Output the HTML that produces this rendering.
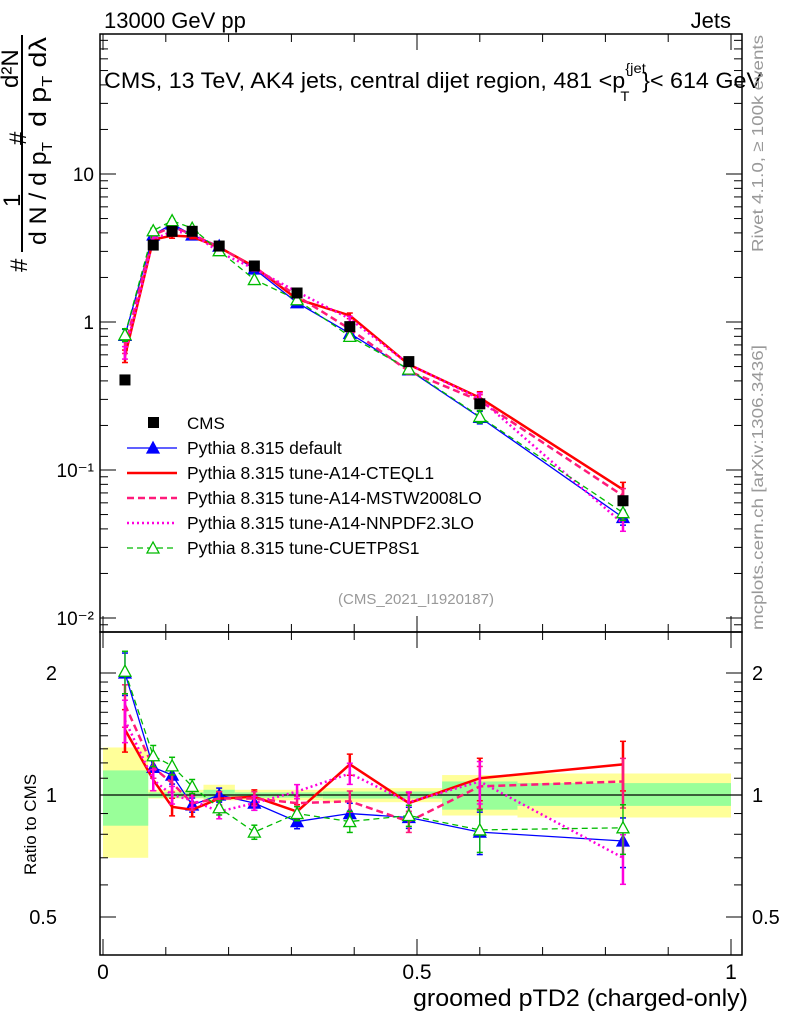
<!DOCTYPE html>
<html><head><meta charset="utf-8"><style>
body{margin:0;background:#fff;}
svg{display:block;font-family:"Liberation Sans",sans-serif;}
</style></head><body>
<svg id="chart" width="786" height="1024" viewBox="0 0 786 1024" xmlns="http://www.w3.org/2000/svg">
<g id="bands"></g>
<g id="axes"></g>
<g id="series"></g>
<g id="legend"></g>
<text x="104" y="28" font-size="22">13000 GeV pp</text>
<text x="731" y="28" font-size="22" text-anchor="end">Jets</text>
<text x="104" y="88" font-size="22" textLength="658" lengthAdjust="spacingAndGlyphs">CMS, 13 TeV, AK4 jets, central dijet region, 481 &lt;p<tspan font-size="14" dy="-15">{jet</tspan><tspan font-size="14" dx="-24" dy="28">T</tspan><tspan dx="12" dy="-13">}&lt; 614 GeV</tspan></text>
<text x="416" y="604" font-size="15" fill="#999" text-anchor="middle">(CMS_2021_I1920187)</text>
<text transform="translate(763,252) rotate(-90)" font-size="16" fill="#999" textLength="217" lengthAdjust="spacingAndGlyphs">Rivet 4.1.0, ≥ 100k events</text>
<text transform="translate(763,630) rotate(-90)" font-size="16" fill="#999" textLength="285" lengthAdjust="spacingAndGlyphs">mcplots.cern.ch [arXiv:1306.3436]</text>
<g font-size="24">
<text transform="translate(27,272) rotate(-90)">#</text>
<text transform="translate(20,207) rotate(-90)">1</text>
<line x1="22" y1="252" x2="22" y2="35" stroke="#000" stroke-width="2"/>
<text transform="translate(46,245) rotate(-90)" textLength="103" lengthAdjust="spacingAndGlyphs">d N / d p<tspan font-size="15" dy="6">T</tspan></text>
<text transform="translate(26,145) rotate(-90)">#</text>
<text transform="translate(46,127) rotate(-90)" textLength="90" lengthAdjust="spacingAndGlyphs">d p<tspan font-size="15" dy="6">T</tspan><tspan dy="-6"> dλ</tspan></text>
<text transform="translate(18,88) rotate(-90)">d²N</text>
</g>
<text transform="translate(36,875) rotate(-90)" font-size="17">Ratio to CMS</text>
<text x="748" y="1006" font-size="24" text-anchor="end" textLength="335" lengthAdjust="spacingAndGlyphs">groomed pTD2 (charged-only)</text>
</svg>
<script>
// ---------- data ----------
const xCenters = [0.035,0.080,0.110,0.142,0.185,0.241,0.309,0.393,0.487,0.600,0.828];
const cmsValues = [0.406,3.31,4.1,4.1,3.26,2.39,1.57,0.93,0.54,0.28,0.062];
const ratioDefault = [2.0,1.17,1.12,0.945,1.0,0.955,0.86,0.90,0.88,0.81,0.77];
const ratioCTEQL1 = [1.45,1.09,0.935,0.92,0.98,0.99,0.91,1.19,0.955,1.10,1.19];
const ratioMSTW = [1.67,1.17,1.07,0.955,0.98,0.98,0.955,0.965,0.86,1.05,1.08];
const ratioNNPDF = [1.53,1.09,1.0,0.97,0.91,0.955,1.02,1.13,0.96,1.08,0.70];
const ratioCUETP8S1 = [2.02,1.25,1.18,1.05,0.93,0.81,0.90,0.86,0.89,0.82,0.83];
const ratioErr = [0.12,0.06,0.05,0.04,0.04,0.04,0.04,0.06,0.06,0.12,0.14];
const binEdges = [0,0.072,0.16,0.21,0.35,0.54,0.66,1.0];
const yellowUp = [1.31,1.03,1.06,1.03,1.04,1.12,1.13];
const yellowDn = [0.70,0.98,0.97,0.97,0.96,0.89,0.88];
const greenUp = [1.15,1.015,1.03,1.015,1.02,1.08,1.07];
const greenDn = [0.84,0.985,0.98,0.985,0.98,0.92,0.94];
const xTickLabels = ["0","0.5","1"];
const yTickLabels = ["10","1","10⁻¹","10⁻²"];
const ratioTickLabels = ["2","1","0.5"];

// ---------- geometry ----------
const L=100,R=742,T=34,M=632,B=955;
const X=v=>103+v*628;
const Y=v=>322-148*Math.log10(v);
const RY=v=>795-122*Math.log2(v);
const NS="http://www.w3.org/2000/svg";
function mk(tag,attrs,parent){const e=document.createElementNS(NS,tag);for(const k in attrs)e.setAttribute(k,attrs[k]);parent.appendChild(e);return e;}
const axes=document.getElementById('axes'),bands=document.getElementById('bands'),ser=document.getElementById('series'),leg=document.getElementById('legend');

for(let i=0;i<binEdges.length-1;i++){
 const x1=X(binEdges[i]),x2=X(binEdges[i+1]);
 const y=mk('rect',{x:x1,y:RY(yellowUp[i]),width:x2-x1,height:RY(yellowDn[i])-RY(yellowUp[i]),fill:'#ffff99'},bands);
 
 
 const g=mk('rect',{x:x1,y:RY(greenUp[i]),width:x2-x1,height:RY(greenDn[i])-RY(greenUp[i]),fill:'#99ff99'},bands);
 
 
}
mk('rect',{x:L,y:T,width:R-L,height:M-T,fill:'none',stroke:'#000','stroke-width':1.5},axes);
mk('rect',{x:L,y:M,width:R-L,height:B-M,fill:'none',stroke:'#000','stroke-width':1.5},axes);
mk('line',{x1:L,x2:R,y1:RY(1),y2:RY(1),stroke:'#000','stroke-width':1.2},axes);
for(let i=0;i<=10;i++){const v=i/10,x=X(v),len=(i%5==0)?16:8;
 for(const [top,bot] of [[T,M],[M,B]]){
  mk('line',{x1:x,x2:x,y1:bot,y2:bot-len,stroke:'#000'},axes);
  mk('line',{x1:x,x2:x,y1:top,y2:top+len,stroke:'#000'},axes);}
}
xTickLabels.forEach((s,i)=>{const t=mk('text',{x:X(i*0.5),y:979,'font-size':21,'text-anchor':'middle'},axes);t.textContent=s;
 
 });
for(let d=-3;d<=1;d++){for(let m=1;m<=9;m++){const v=m*Math.pow(10,d),y=Y(v);if(y<T||y>M)continue;const len=m==1?16:8;
 mk('line',{x1:L,x2:L+len,y1:y,y2:y,stroke:'#000'},axes);mk('line',{x1:R,x2:R-len,y1:y,y2:y,stroke:'#000'},axes);}}
[10,1,0.1,0.01].forEach((v,i)=>{const t=mk('text',{x:94,y:Y(v)+7,'font-size':19,'text-anchor':'end'},axes);t.textContent=yTickLabels[i];
 
 });
for(let k=4;k<=24;k++){const v=k/10;if(v>2&&k%10)continue;const y=RY(v);if(y<M||y>B)continue;const len=(v==0.5||v==1||v==2)?16:8;
 mk('line',{x1:L,x2:L+len,y1:y,y2:y,stroke:'#000'},axes);mk('line',{x1:R,x2:R-len,y1:y,y2:y,stroke:'#000'},axes);}
[2,1,0.5].forEach((v,i)=>{const t=mk('text',{x:57,y:RY(v)+7,'font-size':20,'text-anchor':'end'},axes);t.textContent=ratioTickLabels[i];
 
 
 const t2=mk('text',{x:752,y:RY(v)+7,'font-size':20},axes);t2.textContent=ratioTickLabels[i];
 
 });

const series=[
 {name:'pythia-default',label:'Pythia 8.315 default',r:ratioDefault,c:'#0000ff',w:1.3,dash:'',m:'tri-fill'},
 {name:'pythia-a14-cteql1',label:'Pythia 8.315 tune-A14-CTEQL1',r:ratioCTEQL1,c:'#ff0000',w:2.5,dash:'',m:'none'},
 {name:'pythia-a14-mstw2008lo',label:'Pythia 8.315 tune-A14-MSTW2008LO',r:ratioMSTW,c:'#ff1a7a',w:2.5,dash:'7,4',m:'none'},
 {name:'pythia-a14-nnpdf23lo',label:'Pythia 8.315 tune-A14-NNPDF2.3LO',r:ratioNNPDF,c:'#ff00dd',w:2.5,dash:'2,3',m:'none'},
 {name:'pythia-cuetp8s1',label:'Pythia 8.315 tune-CUETP8S1',r:ratioCUETP8S1,c:'#00bb00',w:1.3,dash:'6,4',m:'tri-open'}
];
function tri(g,x,y,c,fill){mk('polygon',{points:`${x},${y-6} ${x-6},${y+5} ${x+6},${y+5}`,fill:fill?c:'#fff',stroke:c,'stroke-width':1.3},g);}
series.forEach(s=>{
 const g=mk('g',{},ser);
 
 
 const main=xCenters.map((x,i)=>[X(x),Y(cmsValues[i]*s.r[i])]);
 const rat=xCenters.map((x,i)=>[X(x),RY(s.r[i])]);
 [main,rat].forEach((pts,pi)=>{
  mk('polyline',{points:pts.map(p=>p.join(',')).join(' '),fill:'none',stroke:s.c,'stroke-width':s.w,'stroke-dasharray':s.dash},g);
  pts.forEach((p,i)=>{
   const e=ratioErr[i];const v=s.r[i];
   const y1=pi?RY(v*(1+e)):Y(cmsValues[i]*v*(1+e)*0.98+0.0001), y2=pi?RY(v*(1-e)):Y(cmsValues[i]*v*(1-e*0.8));
   mk('line',{x1:p[0],x2:p[0],y1:y1,y2:y2,stroke:s.c,'stroke-width':s.w>2?2.5:1.3},g);
   mk('line',{x1:p[0]-3,x2:p[0]+3,y1:y1,y2:y1,stroke:s.c,'stroke-width':1.5},g);
   mk('line',{x1:p[0]-3,x2:p[0]+3,y1:y2,y2:y2,stroke:s.c,'stroke-width':1.5},g);
   if(s.m!='none')tri(g,p[0],p[1],s.c,s.m=='tri-fill');
  });
 });
});
const cg=mk('g',{},ser);


xCenters.forEach((x,i)=>{const r=mk('rect',{x:X(x)-5.5,y:Y(cmsValues[i])-5.5,width:11,height:11,fill:'#000'},cg);
 
 });

const ly=[423,448,473,498,523,548];
const lg0=mk('g',{},leg);


mk('rect',{x:148,y:ly[0]-6,width:11,height:11,fill:'#000'},lg0);
mk('text',{x:187,y:ly[0]+6,'font-size':17},lg0).textContent='CMS';
series.forEach((s,i)=>{const y=ly[i+1];const g=mk('g',{},leg);
 
 
 mk('line',{x1:127,x2:177,y1:y,y2:y,stroke:s.c,'stroke-width':s.w,'stroke-dasharray':s.dash},g);
 if(s.m!='none')tri(g,153,y,s.c,s.m=='tri-fill');
 mk('text',{x:187,y:y+6,'font-size':17.5},g).textContent=s.label;});
</script>
</body></html>
